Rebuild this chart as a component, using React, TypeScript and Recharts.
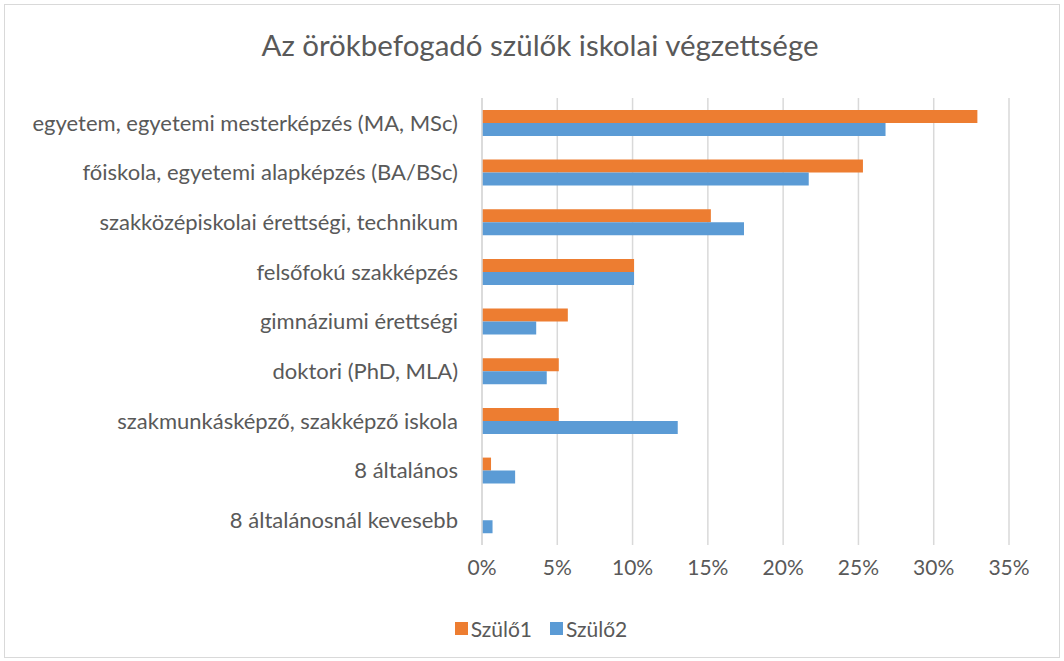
import { BarChart, Bar, XAxis, YAxis, CartesianGrid, Legend } from 'recharts';

const categories = [
  'egyetem, egyetemi mesterképzés (MA, MSc)',
  'főiskola, egyetemi alapképzés (BA/BSc)',
  'szakközépiskolai érettségi, technikum',
  'felsőfokú szakképzés',
  'gimnáziumi érettségi',
  'doktori (PhD, MLA)',
  'szakmunkásképző, szakképző iskola',
  '8 általános',
  '8 általánosnál kevesebb',
];
const szulo1 = [32.9, 25.3, 15.2, 10.1, 5.7, 5.1, 5.1, 0.6, 0];
const szulo2 = [26.8, 21.7, 17.4, 10.1, 3.6, 4.3, 13.0, 2.2, 0.7];
const xTicks = [0, 5, 10, 15, 20, 25, 30, 35];

const data = categories.map((name, i) => ({ name, s1: szulo1[i], s2: szulo2[i] }));

const FONT = 'Lato, "Open Sans", sans-serif';
const TEXT = '#595959';

function LegendContent() {
  const items = [
    { label: 'Szülő1', color: '#ED7D31' },
    { label: 'Szülő2', color: '#5B9BD5' },
  ];
  return (
    <div style={{ display: 'flex', justifyContent: 'center', height: 30, alignItems: 'center', paddingLeft: 36, fontFamily: FONT, fontSize: 21, color: TEXT }}>
      {items.map((it) => (
        <span key={it.label} style={{ display: 'inline-flex', alignItems: 'center', marginRight: 18 }}>
          <span style={{ width: 13, height: 13, background: it.color, marginRight: 3, display: 'inline-block' }} />
          {it.label}
        </span>
      ))}
    </div>
  );
}

export default function App() {
  return (
    <div style={{ position: 'absolute', left: 0, top: 0, width: 1064, height: 661, background: '#fff' }}>
      <div style={{ position: 'absolute', left: 4, top: 4, width: 1054, height: 652, border: '1px solid #d9d9d9' }} />
      <div style={{ position: 'absolute', left: 8, top: 27, width: 1064, textAlign: 'center', fontFamily: FONT, fontSize: 29.5, color: TEXT }}>
        Az örökbefogadó szülők iskolai végzettsége
      </div>
      <BarChart
        width={1064}
        height={661}
        data={data}
        layout="vertical"
        margin={{ top: 98, right: 55, bottom: 18, left: 0 }}
        barGap={0}
        barCategoryGap="24%"
        style={{ position: 'absolute', left: 0, top: 0 }}
      >
        <CartesianGrid horizontal={false} stroke="#d9d9d9" strokeWidth={1.5} />
        <XAxis
          type="number"
          domain={[0, 35]}
          ticks={xTicks}
          tickFormatter={(v: number) => `${v}%`}
          axisLine={false}
          tickLine={false}
          tickSize={0}
          tickMargin={15}
          height={68}
          tick={{ fill: TEXT, fontSize: 21, fontFamily: FONT }}
        />
        <YAxis
          type="category"
          dataKey="name"
          width={482}
          axisLine={{ stroke: '#d9d9d9', strokeWidth: 1.5 }}
          tickLine={false}
          tickSize={0}
          tickMargin={24}
          interval={0}
          tick={{ fill: TEXT, fontSize: 22, fontFamily: FONT }}
        />
        <Legend
          content={<LegendContent />}
          verticalAlign="bottom"
          height={30}
          wrapperStyle={{ left: 0, width: 1064 }}
        />
        <Bar dataKey="s1" name="Szülő1" fill="#ED7D31" isAnimationActive={false} />
        <Bar dataKey="s2" name="Szülő2" fill="#5B9BD5" isAnimationActive={false} />
      </BarChart>
    </div>
  );
}
